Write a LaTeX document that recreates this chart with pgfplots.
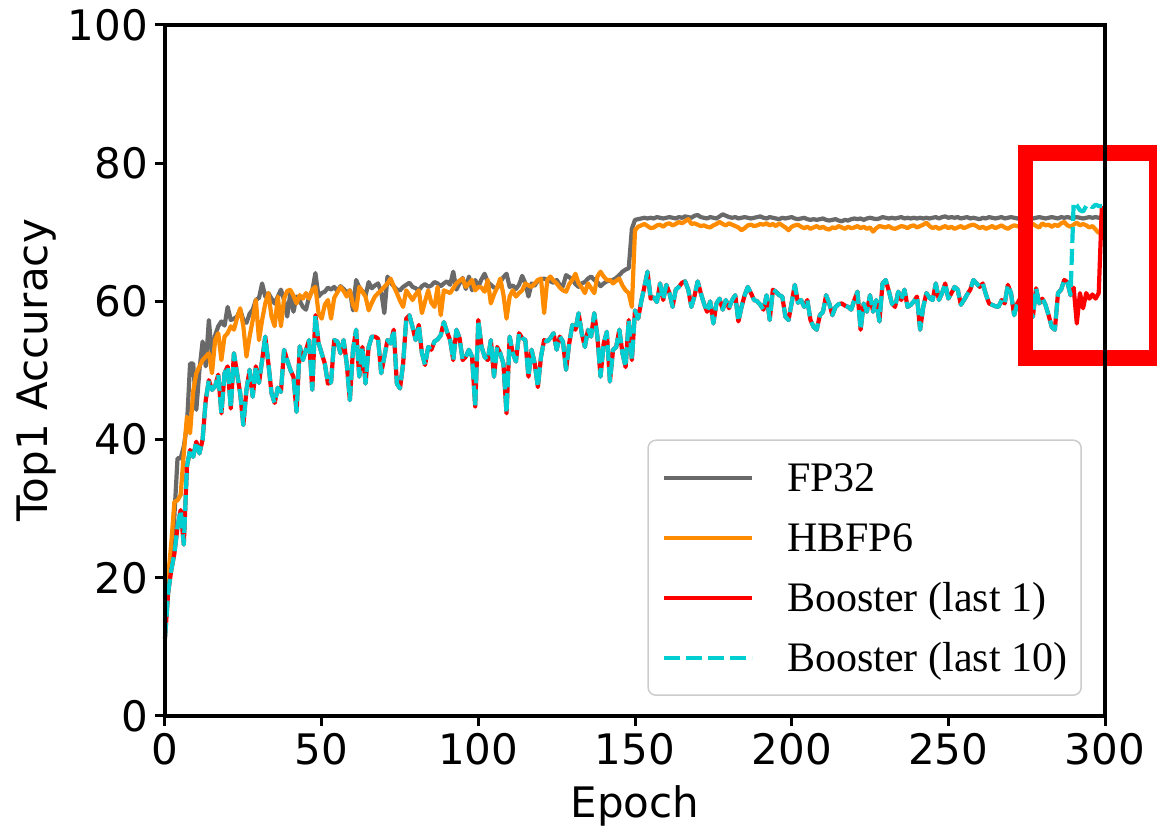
\documentclass[border=0pt]{standalone}
\usepackage{pgfplots}
\pgfplotsset{compat=1.18}
\usepackage{pgfplotstable}
\usepackage{fontspec}
\setmainfont{DejaVu Sans}
\newfontfamily\legfont{Liberation Serif}
\definecolor{cgray}{RGB}{105,105,105}
\definecolor{corange}{RGB}{255,140,0}
\definecolor{cred}{RGB}{255,0,0}
\definecolor{ccyan}{RGB}{0,206,209}

\pgfplotstableread{
e fp hb b1 b10
0 14.1 13.5 11.2 11.2
1 19.9 20.0 17.8 17.8
2 23.5 25.0 21.1 21.1
3 29.0 31.0 23.5 23.5
4 37.3 31.2 27.4 27.4
5 37.3 32.0 29.8 29.8
6 39.0 38.0 24.8 24.8
7 42.0 43.3 36.1 36.1
8 51.0 40.9 38.5 38.5
9 51.0 47.0 37.5 37.5
10 44.3 49.6 39.7 39.7
11 50.1 50.6 38.0 38.0
12 54.2 51.5 40.0 40.0
13 50.6 52.0 45.7 45.7
14 57.3 52.5 48.6 48.6
15 52.0 49.6 47.2 47.2
16 55.1 54.4 47.7 47.7
17 56.4 55.4 49.4 49.4
18 57.1 51.5 43.8 43.8
19 56.5 54.9 49.6 49.6
20 59.2 55.4 50.6 50.6
21 57.3 56.4 44.5 44.5
22 57.5 55.9 52.5 52.5
23 57.8 57.6 49.6 49.6
24 58.8 59.0 46.7 46.7
25 57.3 56.4 42.1 42.1
26 56.9 52.0 47.2 47.2
27 58.2 54.9 50.1 50.1
28 58.8 57.3 46.2 46.2
29 60.2 60.2 50.6 50.6
30 60.5 54.4 48.2 48.2
31 62.6 57.3 51.5 51.5
32 60.7 59.7 54.9 54.9
33 61.2 61.2 51.0 51.0
34 60.4 57.8 46.7 46.7
35 59.7 56.4 45.3 45.3
36 60.7 60.7 47.5 47.5
37 61.7 56.4 46.9 46.9
38 60.2 60.4 53.0 53.0
39 57.8 61.5 51.5 51.5
40 61.2 61.7 50.1 50.1
41 58.5 60.8 49.1 49.1
42 60.7 59.7 44.0 44.0
43 60.1 60.9 53.5 53.5
44 59.2 60.4 51.5 51.5
45 58.8 61.2 53.0 53.0
46 60.7 60.4 54.4 54.4
47 61.5 61.7 47.2 47.2
48 64.1 62.1 58.0 58.0
49 60.7 58.3 54.0 54.0
50 61.2 57.5 52.5 52.5
51 61.4 59.5 51.0 51.0
52 62.0 60.2 48.1 48.1
53 61.7 57.5 48.3 48.3
54 62.1 60.5 54.4 54.4
55 61.5 61.3 54.2 54.2
56 62.2 62.1 52.5 52.5
57 61.8 61.5 54.4 54.4
58 61.3 60.7 51.0 51.0
59 61.6 61.6 45.7 45.7
60 58.7 59.5 53.0 53.0
61 63.1 58.7 55.9 55.9
62 62.0 62.1 49.1 49.1
63 61.5 61.4 53.4 53.4
64 60.8 60.7 48.1 48.1
65 62.8 58.7 53.4 53.4
66 61.9 59.8 54.9 54.9
67 62.3 60.7 54.9 54.9
68 62.6 61.2 54.6 54.6
69 61.4 61.6 49.6 49.6
70 58.3 62.1 52.0 52.0
71 63.6 62.6 54.4 54.4
72 62.7 63.3 53.9 53.9
73 62.2 62.2 55.9 55.9
74 61.7 61.2 48.1 48.1
75 61.6 60.1 47.4 47.4
76 62.1 59.2 51.0 51.0
77 62.4 61.6 57.5 57.5
78 62.7 60.9 58.0 58.0
79 62.1 60.2 56.3 56.3
80 61.9 61.0 54.4 54.4
81 61.6 61.6 56.6 56.6
82 62.2 58.3 52.5 52.5
83 62.5 60.0 50.8 50.8
84 62.1 61.6 53.4 53.4
85 62.3 59.8 53.0 53.0
86 62.8 59.2 54.2 54.2
87 62.6 62.1 54.5 54.5
88 62.2 58.0 55.1 55.1
89 62.6 61.6 57.0 57.0
90 62.9 61.4 55.6 55.6
91 62.4 61.2 54.4 54.4
92 64.3 61.9 51.5 51.5
93 61.7 62.6 55.9 55.9
94 62.6 63.0 54.7 54.7
95 63.4 63.3 51.5 51.5
96 61.8 62.1 52.0 52.0
97 63.6 62.6 53.0 53.0
98 61.6 63.1 52.0 52.0
99 63.1 61.6 44.8 44.8
100 62.1 62.1 57.3 57.3
101 63.2 62.0 53.5 53.5
102 64.0 61.4 52.0 52.0
103 62.8 63.1 51.5 51.5
104 62.4 59.7 54.4 54.4
105 62.0 61.0 49.1 49.1
106 61.9 62.0 53.4 53.4
107 62.8 63.3 52.5 52.5
108 63.5 61.0 51.0 51.0
109 64.0 57.5 43.8 43.8
110 62.1 60.7 54.9 54.9
111 62.3 61.6 52.5 52.5
112 61.8 60.7 51.3 51.3
113 62.4 61.2 55.4 55.4
114 63.7 61.6 54.7 54.7
115 62.6 62.6 54.4 54.4
116 60.7 62.3 49.1 49.1
117 62.6 62.1 53.0 53.0
118 62.3 62.6 51.0 51.0
119 63.0 63.1 47.6 47.6
120 63.2 63.3 52.0 52.0
121 63.3 58.3 54.4 54.4
122 63.1 63.1 54.2 54.2
123 62.9 63.6 54.7 54.7
124 62.7 63.0 55.4 55.4
125 63.1 62.6 53.0 53.0
126 62.4 62.0 54.9 54.9
127 62.2 61.6 54.2 54.2
128 63.8 61.4 50.1 50.1
129 63.5 62.5 53.9 53.9
130 63.2 63.1 56.6 56.6
131 62.5 64.0 55.9 55.9
132 62.1 62.6 58.3 58.3
133 62.6 62.0 55.4 55.4
134 62.8 61.2 53.4 53.4
135 63.3 62.6 55.9 55.9
136 63.6 61.9 54.9 54.9
137 63.1 61.2 58.3 58.3
138 62.8 63.6 54.9 54.9
139 62.2 64.3 49.1 49.1
140 62.6 63.6 53.9 53.9
141 62.9 63.1 55.6 55.6
142 63.0 63.1 48.4 48.4
143 63.1 62.6 53.0 53.0
144 63.4 63.0 53.4 53.4
145 63.8 63.3 55.9 55.9
146 64.3 62.3 52.5 52.5
147 64.6 61.6 50.5 50.5
148 64.8 61.2 57.3 57.3
149 70.5 59.2 51.5 51.5
150 71.8 70.3 58.7 58.7
151 71.9 70.8 57.5 57.5
152 72.0 71.0 60.0 60.0
153 72.1 71.2 62.1 62.1
154 72.0 70.9 64.3 64.3
155 72.1 70.6 60.4 60.4
156 72.0 70.7 60.6 60.6
157 72.2 71.0 59.9 59.9
158 72.1 71.1 62.6 62.6
159 72.0 70.8 60.2 60.2
160 72.1 71.2 62.4 62.4
161 72.2 71.3 61.2 61.2
162 72.1 71.0 59.2 59.2
163 72.0 71.2 61.7 61.7
164 72.2 71.5 62.1 62.1
165 72.1 71.3 62.7 62.7
166 72.3 71.6 62.9 62.9
167 72.2 71.9 61.7 61.7
168 72.1 71.2 59.2 59.2
169 72.4 71.3 60.8 60.8
170 72.5 71.1 62.9 62.9
171 72.2 70.9 61.2 61.2
172 72.1 71.0 59.7 59.7
173 72.0 70.8 58.5 58.5
174 72.2 70.7 60.0 60.0
175 72.1 71.0 56.8 56.8
176 72.0 71.2 59.7 59.7
177 72.3 71.5 60.4 60.4
178 72.6 71.2 58.8 58.8
179 72.4 71.0 60.2 60.2
180 72.2 71.3 59.0 59.0
181 72.1 71.1 60.2 60.2
182 72.2 70.9 60.9 60.9
183 72.0 70.7 57.1 57.1
184 72.1 70.3 59.2 59.2
185 72.2 70.6 60.9 60.9
186 72.1 71.0 62.1 62.1
187 72.0 71.1 61.2 61.2
188 72.1 70.9 60.2 60.2
189 72.2 71.0 60.0 60.0
190 72.3 71.2 59.5 59.5
191 72.1 71.1 58.8 58.8
192 72.0 71.3 60.9 60.9
193 72.2 71.0 57.3 57.3
194 72.1 71.2 61.7 61.7
195 72.0 70.9 61.4 61.4
196 71.9 71.3 60.9 60.9
197 72.1 71.0 60.7 60.7
198 72.0 70.7 57.8 57.8
199 72.1 70.3 57.3 57.3
200 72.2 70.8 59.8 59.8
201 72.0 71.0 62.4 62.4
202 71.9 71.1 59.8 59.8
203 72.0 70.8 60.2 60.2
204 72.1 70.6 59.2 59.2
205 71.9 70.8 60.2 60.2
206 71.8 70.5 57.3 57.3
207 71.9 70.7 56.3 56.3
208 71.8 70.9 55.9 55.9
209 71.9 70.6 58.0 58.0
210 72.0 70.8 58.5 58.5
211 71.8 70.5 60.9 60.9
212 71.7 70.4 59.7 59.7
213 71.8 70.7 58.0 58.0
214 71.9 70.6 59.2 59.2
215 71.7 70.9 59.6 59.6
216 71.6 70.7 59.7 59.7
217 71.8 70.5 59.4 59.4
218 71.7 70.8 59.2 59.2
219 71.9 70.6 58.8 58.8
220 72.0 70.7 60.2 60.2
221 71.9 70.9 61.4 61.4
222 72.0 70.6 55.9 55.9
223 71.8 70.8 59.7 59.7
224 72.0 70.5 58.5 58.5
225 72.1 70.7 60.9 60.9
226 72.0 70.1 58.5 58.5
227 71.9 70.6 60.2 60.2
228 72.0 70.9 57.1 57.1
229 72.2 70.8 62.6 62.6
230 72.1 70.7 63.1 63.1
231 72.0 70.9 61.5 61.5
232 72.1 70.6 59.7 59.7
233 72.0 70.5 59.2 59.2
234 72.1 70.7 61.4 61.4
235 72.2 70.9 60.2 60.2
236 72.0 70.8 61.7 61.7
237 72.1 70.6 59.2 59.2
238 72.0 70.9 59.5 59.5
239 72.1 71.0 60.0 60.0
240 72.0 70.7 60.7 60.7
241 72.1 70.9 55.9 55.9
242 72.0 71.1 59.2 59.2
243 72.1 71.4 61.2 61.2
244 72.0 70.9 60.5 60.5
245 72.1 70.6 60.2 60.2
246 72.2 70.8 62.6 62.6
247 72.0 70.5 60.2 60.2
248 72.2 70.7 61.2 61.2
249 72.3 70.9 62.6 62.6
250 72.1 70.6 60.4 60.4
251 72.2 70.8 61.2 61.2
252 72.1 70.5 62.1 62.1
253 72.2 70.7 61.7 61.7
254 72.0 70.9 59.5 59.5
255 72.1 70.6 60.2 60.2
256 72.2 70.8 61.0 61.0
257 72.0 71.0 61.7 61.7
258 72.1 71.1 63.1 63.1
259 72.0 70.9 62.6 62.6
260 71.9 70.6 62.1 62.1
261 72.1 70.8 62.6 62.6
262 72.0 70.5 61.0 61.0
263 72.2 70.7 59.7 59.7
264 72.1 70.9 59.5 59.5
265 72.0 70.6 59.3 59.3
266 72.1 70.8 59.2 59.2
267 72.2 71.0 60.2 60.2
268 72.0 70.7 59.7 59.7
269 72.1 70.5 62.4 62.4
270 72.2 70.8 61.2 61.2
271 72.1 71.0 58.0 58.0
272 72.0 70.9 59.7 59.7
273 72.1 70.7 60.5 60.5
274 72.0 70.5 61.5 61.5
275 72.2 70.8 59.0 59.0
276 72.1 71.0 58.5 58.5
277 72.0 71.2 57.8 57.8
278 72.1 70.9 61.9 61.9
279 72.2 70.7 59.7 59.7
280 72.1 71.3 60.4 60.4
281 72.0 71.0 59.5 59.5
282 72.1 71.1 58.0 58.0
283 72.2 70.8 56.3 56.3
284 72.1 71.1 55.9 55.9
285 72.0 70.9 61.2 61.2
286 72.2 71.3 61.7 61.7
287 72.1 71.5 63.1 63.1
288 72.2 71.0 62.8 62.8
289 72.1 70.8 60.9 60.9
290 72.1 71.1 62.0 74.3
291 72.2 71.4 56.8 73.9
292 72.1 71.0 61.2 73.2
293 72.0 71.2 59.0 73.0
294 72.1 71.0 61.2 73.8
295 72.2 70.7 60.4 74.0
296 72.1 70.9 61.0 73.6
297 72.2 70.4 60.4 74.0
298 72.1 69.9 61.2 73.8
299 72.2 70.2 73.8 73.8
}\data

\begin{document}
\begin{tikzpicture}
\begin{axis}[
  scale only axis, width=470pt, height=345.5pt,
  xmin=0, xmax=300, ymin=0, ymax=100,
  xtick={0,50,...,300}, ytick={0,20,...,100},
  tick align=outside, xtick pos=lower, ytick pos=left,
  major tick length=5pt,
  every tick/.style={black, line width=1.5pt},
  axis line style={line width=1.6pt},
  /pgf/number format/assume math mode=true,
  tick label style={font=\fontsize{21}{25}\selectfont},
  xlabel={Epoch}, ylabel={Top1 Accuracy},
  label style={font=\fontsize{21}{25}\selectfont},
  xlabel style={at={(axis description cs:0.5,-0.1476)}, anchor=base},
  ylabel style={at={(axis description cs:-0.1255,0.5)}, anchor=base},
  clip=false, axis on top,
  legend cell align=left,
  legend image code/.code={\draw[#1] (0pt,0pt) -- (44pt,0pt);},
  legend style={at={(rel axis cs:0.9755,0.029)}, anchor=south east,
    draw=black!20, line width=0.75pt, rounded corners=4pt, fill=white,
    font=\legfont\fontsize{21}{25}\selectfont,
    inner xsep=7pt, inner ysep=8.75pt, row sep=10pt,
    nodes={inner sep=0pt, text height=17pt, text depth=3pt},
    /tikz/every odd column/.style={column sep=16.5pt}},
]
\addplot[cgray, line width=2.1pt, line join=round] table[x=e,y=fp]{\data};
\addlegendentry{FP32}
\addplot[corange, line width=2.1pt, line join=round] table[x=e,y=hb]{\data};
\addlegendentry{HBFP6}
\addplot[cred, line width=2.1pt, line join=round] table[x=e,y=b1]{\data};
\addlegendentry{Booster (last 1)}
\addplot[ccyan, line width=2.1pt, line join=round, dash pattern=on 8pt off 3pt] table[x=e,y=b10]{\data};
\addlegendentry{Booster (last 10)}
\draw[cred, line width=7.8pt] (axis cs:274.6,51.8) rectangle (axis cs:316.4,81.5);
\end{axis}
\pgfresetboundingbox
\path[use as bounding box] ([shift={(-82.5pt,-56pt)}]current axis.south west) rectangle ([shift={(496pt,358pt)}]current axis.south west);
\end{tikzpicture}
\end{document}
